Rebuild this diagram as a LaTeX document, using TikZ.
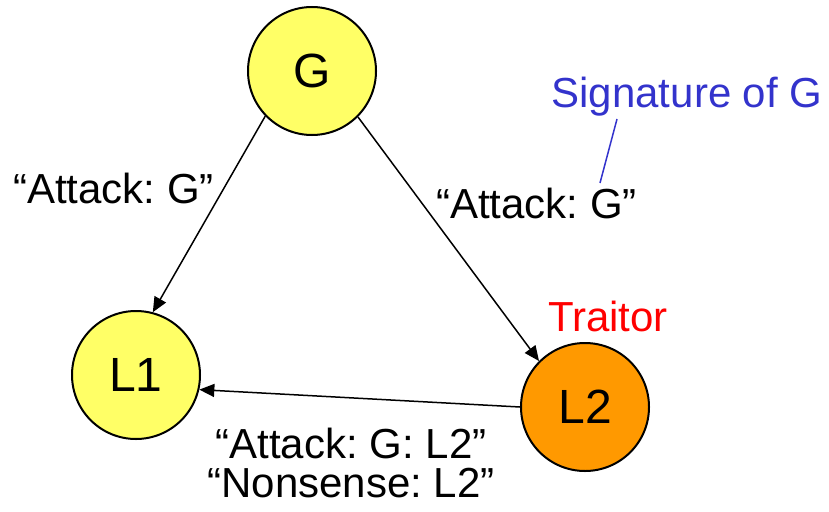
\documentclass[tikz,border=0pt]{standalone}
\usepackage{fontspec}
\setmainfont{Liberation Sans}
\usetikzlibrary{arrows.meta}
\definecolor{nodeyellow}{RGB}{255,255,102}
\definecolor{traitororange}{RGB}{255,153,0}
\definecolor{sigblue}{RGB}{51,51,204}
\frenchspacing
\tikzset{
  general/.style={circle, draw=black, line width=2pt, minimum size=128pt, inner sep=0pt,
    font=\fontsize{48}{52}\selectfont},
  loyal/.style={general, fill=nodeyellow},
  traitor/.style={general, fill=traitororange},
  msg/.style={font=\fontsize{42}{39}\selectfont\frenchspacing, inner sep=0pt, anchor=base},
  sendarrow/.style={line width=1.5pt, -{Triangle[length=15pt,width=13pt]}},
}
\begin{document}
\begin{tikzpicture}[x=1pt, y=-1pt]
  \useasboundingbox (0,0) rectangle (829,511);

  % the three generals
  \node[loyal]   (G)  at (312,71)  {G};
  \node[loyal]   (L1) at (136,375) {L1};
  \node[traitor] (L2) at (585,407) {L2};

  % messages
  \draw[sendarrow] (G.224) -- (L1.75);
  \draw[sendarrow] (G.315.6) -- (L2.135);
  \draw[sendarrow] (L2.180) -- (L1.347);

  % message labels
  \node[msg] (mleft)  at (113.5,203) {“Attack: G”};
  \node[msg] (mright) at (536.5,218) {“Attack: G”};
  \node[msg] (mbot1)  at (351,458)   {“Attack: G: L2”};
  \node[msg] (mbot2)  at (351,497)   {“Nonsense: L2”};

  % annotations
  \node[msg, text=red] (trait) at (608,331) {Traitor};
  \node[msg, text=sigblue] (sig) at (687,107) {Signature of G};
  \coordinate (sigtop) at (617,119);
  \coordinate (sigbot) at (600,183);
  \draw[sigblue, line width=1.5pt] (sigtop) -- (sigbot);
\end{tikzpicture}
\end{document}
